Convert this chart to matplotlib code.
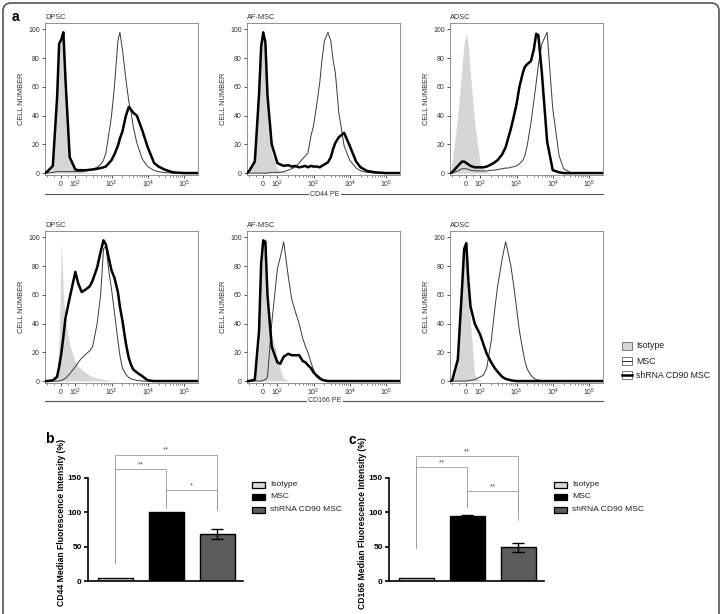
import numpy as np
import matplotlib.pyplot as plt
from matplotlib.patches import Rectangle, FancyBboxPatch

plt.rcParams['font.family'] = ['Liberation Sans', 'DejaVu Sans']
plt.rcParams['mathtext.fontset'] = 'custom'
plt.rcParams['mathtext.rm'] = 'Liberation Sans'

W, H = 723, 614

# fluorescence values where the histogram counts were read
xg = [-115, -100, -60, -30, -15, 0, 15, 30, 60, 100,
      120, 150, 200, 250, 300, 400, 500, 600, 700, 850,
      1000, 1200, 1500, 1700, 2000, 2500, 3000, 3500, 4000, 5000,
      7000, 10000, 15000, 20000, 30000, 50000, 100000, 245000]

# CD44 PE histograms (% of max)
iso_cd44_dpsc = [0, 1, 5, 50, 85, 93, 90, 60, 10, 2,
                 1.5, 1, 0.5, 0.5, 0.3, 0.2, 0.2, 0.1, 0, 0,
                 0, 0, 0, 0, 0, 0, 0, 0, 0, 0,
                 0, 0, 0, 0, 0, 0, 0, 0]
msc_cd44_dpsc = [0, 0, 0.5, 1, 1, 1, 1, 1, 1, 1,
                 1, 1, 1.5, 2, 2.5, 4, 6, 9, 14, 28,
                 40, 60, 92, 98, 86, 65, 50, 42, 32, 21,
                 10, 4.5, 1.8, 1, 0.3, 0, 0, 0]
sh_cd44_dpsc = [0, 1, 5, 52, 90, 93, 98, 65, 11, 2.5,
                2, 2, 2, 2.3, 2.5, 3, 3.5, 4, 4.6, 7,
                9, 13, 19, 24, 29, 40, 46, 44, 42, 40,
                30, 18, 7, 4.5, 2.3, 0.5, 0, 0]

iso_cd44_af = [0, 1, 8, 55, 85, 96, 85, 50, 14, 3,
               2, 1, 0.5, 0, 0, 0, 0, 0, 0, 0,
               0, 0, 0, 0, 0, 0, 0, 0, 0, 0,
               0, 0, 0, 0, 0, 0, 0, 0]
msc_cd44_af = [0, 0, 0, 0, 0, 0, 0, 0, 0.5, 0.5,
               0.5, 1, 2, 3, 4, 7, 10, 12, 14, 26,
               33, 46, 64, 78, 92, 98, 92, 78, 70, 42,
               19, 9, 3.5, 1.5, 0.5, 0, 0, 0]
sh_cd44_af = [0, 1.5, 8, 55, 88, 98, 91, 54, 20, 7,
              6, 5, 5.5, 4.5, 5, 4, 4.5, 5, 4, 5,
              4.5, 4.6, 4, 5, 6, 7.5, 11, 17, 21, 25,
              28, 19, 8, 4, 1.5, 0.5, 0, 0]

iso_cd44_adsc = [0, 8, 40, 75, 90, 98, 88, 68, 35, 6,
                 3, 1, 0.3, 0, 0, 0, 0, 0, 0, 0,
                 0, 0, 0, 0, 0, 0, 0, 0, 0, 0,
                 0, 0, 0, 0, 0, 0, 0, 0]
msc_cd44_adsc = [0, 0, 1.5, 3, 3, 3, 2.5, 2, 1.5, 1.5,
                 1.5, 1.5, 2, 2, 2.5, 3, 3.5, 3.5, 4, 4.5,
                 5, 6.5, 9, 12, 20, 35, 50, 63, 75, 90,
                 98, 45, 12, 3, 0.5, 0, 0, 0]
sh_cd44_adsc = [0, 0.5, 5, 8, 8, 7, 6, 5, 4, 4,
                4, 4.5, 6, 7.5, 9, 13, 18, 25, 31, 40,
                48, 60, 70, 74, 76, 78, 86, 97, 96, 70,
                22, 2, 0.5, 0, 0, 0, 0, 0]

# CD166 PE histograms (% of max)
iso_cd166_dpsc = [0, 0, 1, 5, 30, 97, 61, 42, 25, 13,
                  10, 8, 5.5, 4, 3, 2, 1.5, 1.2, 1, 0.7,
                  0.5, 0.3, 0, 0, 0, 0, 0, 0, 0, 0,
                  0, 0, 0, 0, 0, 0, 0, 0]
msc_cd166_dpsc = [0, 0, 0, 0, 0, 0.5, 1, 2, 5, 10,
                  13, 16, 19, 21, 24, 40, 60, 92, 94, 76,
                  64, 48, 28, 18, 9, 4.5, 2.5, 1.5, 1, 0.5,
                  0, 0, 0, 0, 0, 0, 0, 0]
sh_cd166_dpsc = [0, 0, 0.5, 3, 10, 19, 31, 44, 58, 76,
                 68, 62, 64, 66, 70, 79, 90, 98, 95, 85,
                 77, 72, 62, 52, 42, 26, 16, 11, 8, 6,
                 3.5, 0.5, 0, 0, 0, 0, 0, 0]

iso_cd166_af = [0, 0, 0.5, 25, 75, 96, 85, 58, 33, 17,
                8, 2, 0.5, 0, 0, 0, 0, 0, 0, 0,
                0, 0, 0, 0, 0, 0, 0, 0, 0, 0,
                0, 0, 0, 0, 0, 0, 0, 0]
msc_cd166_af = [0, 0, 0, 0, 0, 0.5, 1, 3, 40, 78,
                86, 97, 73, 57, 50, 40, 30, 24, 20, 13,
                8, 3, 1, 0.5, 0, 0, 0, 0, 0, 0,
                0, 0, 0, 0, 0, 0, 0, 0]
sh_cd166_af = [0, 0, 1, 35, 82, 98, 97, 60, 24, 13,
               12, 17, 19, 18, 18, 18, 14, 13, 11, 9,
               6, 4, 2, 1, 0.5, 0, 0, 0, 0, 0,
               0, 0, 0, 0, 0, 0, 0, 0]

iso_cd166_adsc = [0, 0.5, 20, 75, 88, 93, 72, 40, 4, 0.3,
                  0, 0, 0, 0, 0, 0, 0, 0, 0, 0,
                  0, 0, 0, 0, 0, 0, 0, 0, 0, 0,
                  0, 0, 0, 0, 0, 0, 0, 0]
msc_cd166_adsc = [0, 0, 0, 0, 0, 0, 0.3, 0.5, 1, 3,
                  4, 9, 28, 50, 66, 85, 97, 88, 80, 65,
                  51, 35, 21, 14, 8, 4, 2, 1, 0.7, 0.3,
                  0, 0, 0, 0, 0, 0, 0, 0]
sh_cd166_adsc = [0, 0.5, 15, 65, 92, 96, 70, 52, 40, 32,
                 26, 19, 13, 9, 6.5, 3, 1.5, 1, 0.5, 0.2,
                 0, 0, 0, 0, 0, 0, 0, 0, 0, 0,
                 0, 0, 0, 0, 0, 0, 0, 0]

cell_types = ['DPSC', 'AF-MSC', 'ADSC']
markers = ['CD44 PE', 'CD166 PE']
hists = [[(iso_cd44_dpsc, msc_cd44_dpsc, sh_cd44_dpsc),
          (iso_cd44_af, msc_cd44_af, sh_cd44_af),
          (iso_cd44_adsc, msc_cd44_adsc, sh_cd44_adsc)],
         [(iso_cd166_dpsc, msc_cd166_dpsc, sh_cd166_dpsc),
          (iso_cd166_af, msc_cd166_af, sh_cd166_af),
          (iso_cd166_adsc, msc_cd166_adsc, sh_cd166_adsc)]]
xtick_vals = [0, 100, 1000, 10000, 100000]
xtick_labels = [r'$\mathregular{0}$', r'$\mathregular{10^2}$', r'$\mathregular{10^3}$',
                r'$\mathregular{10^4}$', r'$\mathregular{10^5}$']

# median fluorescence intensity bars
groups = ['Isotype', 'MSC', 'shRNA CD90 MSC']
cd44_mfi = [5, 100, 68]
cd44_err = [0, 0, 7]
cd166_mfi = [4, 95, 49]
cd166_err = [0, 0.5, 6.5]
# (left group, right group, bracket height, left foot, right foot, label)
cd44_sig = [(1, 3, 184, 26, 104, '**'), (1, 2, 163, 26, 107, '**'),
            (2, 3, 132, 115, 104, '*')]
cd166_sig = [(1, 3, 182, 48, 99, '**'), (1, 2, 166, 48, 108, '**'),
             (2, 3, 131, 108, 89, '**')]

fig = plt.figure(figsize=(W / 100, H / 100), dpi=100)

# overlay in pixel units for frame, legends and shared axis labels
ov = fig.add_axes([0, 0, 1, 1])
ov.set_xlim(0, W)
ov.set_ylim(H, 0)
ov.axis('off')
ov.add_patch(FancyBboxPatch((3, 3), 716, 650, boxstyle='round,pad=0,rounding_size=8',
                            fill=False, ec='#555555', lw=1.2, clip_on=False))
ov.text(15, 17, 'a', fontsize=10, fontweight='bold', ha='center', va='center')
ov.text(49, 439, 'b', fontsize=10, fontweight='bold', ha='center', va='center')
ov.text(352, 440, 'c', fontsize=10, fontweight='bold', ha='center', va='center')

hist_left = [45, 247, 450]
row_top = [23, 231]
hw, hh = 153, 151.5
minor = [-100, -50, 50] + [k * 10 ** d for d in range(2, 5) for k in range(2, 10)]

for r in range(2):
    for c in range(3):
        iso, msc, sh = hists[r][c]
        left, top = hist_left[c], row_top[r]
        ax = fig.add_axes([left / W, 1 - (top + hh) / H, hw / W, hh / H])
        ax.fill_between(xg, iso, color='#d6d6d6', lw=0, zorder=1)
        ax.plot(xg, msc, color='#3a3a3a', lw=0.7, zorder=2)
        ax.plot(xg, sh, color='black', lw=1.8, zorder=3)
        ax.set_xscale('symlog', linthresh=100, linscale=0.35)
        ax.set_xlim(-115, 245000)
        ax.set_ylim(-1, 104.5)
        ax.set_xticks(xtick_vals)
        ax.set_xticklabels(xtick_labels)
        ax.set_xticks(minor, minor=True)
        ax.set_xticklabels([], minor=True)
        ax.set_yticks([0, 20, 40, 60, 80, 100])
        ax.tick_params(direction='out', length=2.2, width=0.6, labelsize=5,
                       colors='#333333', pad=1.5)
        ax.tick_params(axis='x', pad=1.0)
        ax.tick_params(which='minor', direction='out', length=1.2, width=0.5, colors='#555555')
        for s in ax.spines.values():
            s.set_color('#808080')
            s.set_linewidth(0.6)
        ax.set_ylabel('CELL NUMBER', fontsize=5.3, color='#333333')
        ax.yaxis.set_label_coords(-0.13, 0.5)
        ax.text(0, 1.015, cell_types[c], transform=ax.transAxes, fontsize=5.3,
                color='#333333', va='bottom', ha='left')
    ly = [194, 401][r]
    ov.plot([45, 603], [ly, ly], color='#555555', lw=0.8)
    ov.text(325, ly, markers[r], fontsize=5.0, color='#333333', ha='center', va='center',
            bbox=dict(fc='white', ec='none', pad=1.0))

# histogram legend
leg_y = [346, 361, 375]
leg_txt = ['Isotype', 'MSC', 'shRNA CD90 MSC']
ov.add_patch(Rectangle((622, leg_y[0] - 4), 10, 8, fc='#d6d6d6', ec='#666666', lw=0.6))
ov.add_patch(Rectangle((622, leg_y[1] - 4), 10, 8, fc='white', ec='#666666', lw=0.6))
ov.plot([622, 632], [leg_y[1], leg_y[1]], color='#333333', lw=0.7)
ov.add_patch(Rectangle((622, leg_y[2] - 4), 10, 8, fc='white', ec='#666666', lw=0.6))
ov.plot([622, 632], [leg_y[2], leg_y[2]], color='black', lw=1.8)
for yy, t in zip(leg_y, leg_txt):
    ov.text(636, yy, t, fontsize=6.3, color='#222222', va='center', ha='left')

bar_colors = ['#d9d9d9', 'black', '#5c5c5c']


def bar_panel(left, vals, errs, sig, ylabel, leg_x):
    ax = fig.add_axes([left / W, 1 - 581 / H, 155 / W, (581 - 450.5) / H])
    x = np.arange(1, 4)
    ax.bar(x, vals, width=0.68, color=bar_colors, edgecolor='black', linewidth=1.0, zorder=2)
    xe = [xi for xi, e in zip(x, errs) if e > 0]
    ve = [v for v, e in zip(vals, errs) if e > 0]
    ee = [e for e in errs if e > 0]
    ax.errorbar(xe, ve, yerr=ee, fmt='none', ecolor='black', elinewidth=1.0,
                capsize=4.5, capthick=1.0, zorder=3)
    for x0, x1, yt, yl, yr, s in sig:
        ax.plot([x0, x0, x1, x1], [yl, yt, yt, yr], color='#9a9a9a', lw=0.6, clip_on=False)
        ax.text((x0 + x1) / 2, yt + 1.5, s, ha='center', va='bottom', fontsize=5.5,
                color='#555555')
    ax.set_xlim(0.47, 3.5)
    ax.set_ylim(0, 190)
    ax.set_yticks([0, 50, 100, 150])
    ax.set_xticks([])
    ax.spines['top'].set_visible(False)
    ax.spines['right'].set_visible(False)
    ax.spines['left'].set_bounds(0, 150)
    ax.spines['left'].set_linewidth(1.2)
    ax.spines['bottom'].set_linewidth(1.2)
    ax.tick_params(axis='y', length=3, width=1.2, labelsize=6, pad=1.5)
    for lab in ax.get_yticklabels():
        lab.set_fontweight('bold')
    ax.patch.set_alpha(0)
    ax.set_ylabel(ylabel, fontsize=6.2, fontweight='bold')
    ax.yaxis.set_label_coords(-0.145, 0.445)
    for yy, g, col in zip([485, 497, 509.5], groups, bar_colors):
        ov.add_patch(Rectangle((leg_x, yy - 3), 13, 6, fc=col, ec='black', lw=0.9))
        ov.text(leg_x + 18, yy, g, fontsize=6.1, color='#222222', va='center', ha='left')


bar_panel(88, cd44_mfi, cd44_err, cd44_sig, 'CD44 Median Fluorescence Intensity (%)', 252)
bar_panel(389, cd166_mfi, cd166_err, cd166_sig, 'CD166 Median Fluorescence Intensity (%)', 554)

fig.savefig('out.png', dpi=100)
